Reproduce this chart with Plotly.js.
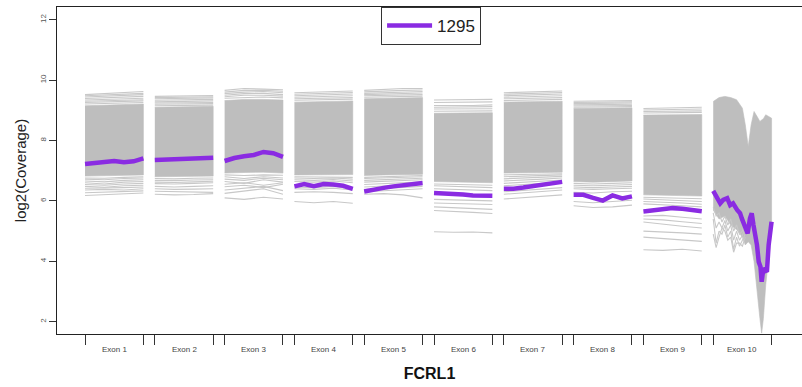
<!DOCTYPE html>
<html>
<head>
<meta charset="utf-8">
<script src="https://cdn.plot.ly/plotly-3.0.1.min.js"></script>
<style>html,body{margin:0;padding:0;background:#fff}#chart{width:802px;height:387px}</style>
</head>
<body>
<div id="chart"></div>
<script>
// ---------------- DATA ----------------
const geneName = 'FCRL1';
const sampleName = '1295';
const exonLabels = ['Exon 1','Exon 2','Exon 3','Exon 4','Exon 5','Exon 6','Exon 7','Exon 8','Exon 9','Exon 10'];
const yTicks = [2, 4, 6, 8, 10, 12];

// relative positions within an exon (0 = exon start, 1 = exon end)
const grid4 = [0, 1/3, 2/3, 1];
const grid7 = [0, 1/6, 2/6, 3/6, 4/6, 5/6, 1];
const grid10 = [0, .07, .12, .17, .24, .29, .34, .41, .46, .49, .54, .59, .63, .66, .69, .75, .78, .81, .83, .86, .92, .95, 1];
const grid10g = [0, .1, .2, .3, .4, .5, .55, .6, .65, .7, .75, .8, .83, .86, .9, .95, 1];
const grid10f = [0, .05, .1, .15, .2, .25, .3, .35, .4, .45, .5, .55];

// sample 1295 (purple) log2 coverage per exon
const sample1295 = [
  [7.22, 7.26, 7.30, 7.32, 7.28, 7.31, 7.41],
  [7.35, 7.36, 7.40, 7.38, 7.40, 7.42, 7.43],
  [7.32, 7.42, 7.48, 7.52, 7.62, 7.58, 7.46],
  [6.48, 6.56, 6.49, 6.56, 6.54, 6.50, 6.40],
  [6.31, 6.38, 6.43, 6.48, 6.52, 6.56, 6.59],
  [6.26, 6.25, 6.23, 6.21, 6.18, 6.16, 6.17],
  [6.40, 6.40, 6.44, 6.48, 6.53, 6.57, 6.63],
  [6.20, 6.20, 6.10, 6.01, 6.18, 6.08, 6.15],
  [5.65, 5.68, 5.72, 5.76, 5.74, 5.71, 5.66],
  [6.33, 6.09, 5.92, 6.03, 6.09, 5.86, 5.92, 5.70, 5.59, 5.42, 5.20, 4.92, 5.42, 5.59, 5.20, 4.54, 3.98, 3.82, 3.32, 3.77, 3.65, 4.54, 5.31]
];

// dense band of all other samples (upper and lower edge)
const coreTop = [
  [9.15, 9.17, 9.18, 9.21],
  [9.10, 9.11, 9.12, 9.13],
  [9.32, 9.36, 9.36, 9.34],
  [9.27, 9.28, 9.30, 9.31],
  [9.38, 9.40, 9.41, 9.42],
  [8.90, 8.91, 8.92, 8.92],
  [9.27, 9.28, 9.29, 9.30],
  [9.06, 9.07, 9.07, 9.08],
  [8.84, 8.85, 8.86, 8.86],
  [9.29, 9.42, 9.46, 9.42, 9.35, 9.07, 8.52, 7.80, 8.52, 8.96, 8.80, 8.63, 8.68, 8.72, 8.85, 8.80, 8.74]
];
const coreBottom = [
  [6.82, 6.82, 6.84, 6.86],
  [6.80, 6.80, 6.81, 6.82],
  [6.92, 6.94, 6.95, 6.92],
  [6.86, 6.86, 6.87, 6.87],
  [6.84, 6.86, 6.88, 6.88],
  [6.64, 6.62, 6.62, 6.60],
  [6.92, 6.93, 6.94, 6.95],
  [6.64, 6.62, 6.64, 6.66],
  [6.20, 6.20, 6.18, 6.16],
  [5.70, 5.40, 5.50, 5.20, 5.05, 4.80, 4.54, 4.65, 4.54, 3.99, 3.00, 2.11, 1.62, 2.11, 3.22, 4.10, 4.98]
];

// individual sample lines above the dense band
const upperLines = [
  [[9.52, 9.55, 9.58, 9.62], [9.48, 9.50, 9.53, 9.56], [9.44, 9.46, 9.49, 9.52], [9.39, 9.41, 9.43, 9.46], [9.34, 9.36, 9.38, 9.40], [9.30, 9.31, 9.33, 9.35], [9.26, 9.27, 9.29, 9.31], [9.21, 9.22, 9.24, 9.26]],
  [[9.46, 9.47, 9.48, 9.49], [9.42, 9.43, 9.44, 9.45], [9.38, 9.39, 9.40, 9.41], [9.33, 9.34, 9.35, 9.36], [9.28, 9.29, 9.30, 9.31], [9.24, 9.25, 9.26, 9.26], [9.20, 9.21, 9.22, 9.22], [9.15, 9.16, 9.17, 9.17]],
  [[9.66, 9.72, 9.70, 9.68], [9.60, 9.66, 9.66, 9.63], [9.55, 9.60, 9.62, 9.58], [9.50, 9.55, 9.56, 9.52], [9.45, 9.50, 9.50, 9.47], [9.40, 9.43, 9.44, 9.41]],
  [[9.58, 9.60, 9.62, 9.64], [9.53, 9.55, 9.57, 9.59], [9.48, 9.50, 9.52, 9.54], [9.43, 9.45, 9.46, 9.48], [9.38, 9.40, 9.41, 9.42], [9.33, 9.34, 9.36, 9.37]],
  [[9.66, 9.70, 9.72, 9.72], [9.61, 9.64, 9.66, 9.67], [9.56, 9.58, 9.60, 9.62], [9.52, 9.54, 9.55, 9.57], [9.48, 9.50, 9.51, 9.52], [9.43, 9.45, 9.46, 9.47]],
  [[9.34, 9.35, 9.36, 9.36], [9.26, 9.26, 9.27, 9.28], [9.16, 9.15, 9.16, 9.18], [9.10, 9.10, 9.11, 9.12], [9.04, 9.04, 9.06, 9.05], [8.97, 8.97, 8.98, 8.98]],
  [[9.58, 9.60, 9.62, 9.64], [9.53, 9.55, 9.57, 9.59], [9.48, 9.50, 9.52, 9.54], [9.43, 9.44, 9.46, 9.48], [9.38, 9.39, 9.40, 9.42], [9.32, 9.33, 9.34, 9.36]],
  [[9.30, 9.31, 9.32, 9.32], [9.26, 9.26, 9.27, 9.28], [9.22, 9.22, 9.23, 9.24], [9.18, 9.18, 9.19, 9.20], [9.14, 9.14, 9.15, 9.16], [9.10, 9.10, 9.11, 9.12]],
  [[9.06, 9.08, 9.09, 9.10], [9.01, 9.02, 9.03, 9.04], [8.96, 8.97, 8.98, 8.98], [8.91, 8.92, 8.92, 8.93]],
  []
];

// individual sample lines below the dense band
const lowerLines = [
  [[6.76, 6.75, 6.78, 6.80], [6.72, 6.70, 6.74, 6.76], [6.66, 6.63, 6.68, 6.70], [6.60, 6.56, 6.62, 6.64], [6.54, 6.52, 6.56, 6.58], [6.48, 6.45, 6.50, 6.52], [6.42, 6.42, 6.44, 6.46], [6.36, 6.38, 6.36, 6.40], [6.27, 6.29, 6.30, 6.33], [6.18, 6.20, 6.22, 6.26]],
  [[6.74, 6.73, 6.75, 6.76], [6.68, 6.67, 6.69, 6.70], [6.62, 6.61, 6.63, 6.65], [6.57, 6.56, 6.58, 6.60], [6.48, 6.46, 6.48, 6.50], [6.40, 6.38, 6.39, 6.40], [6.32, 6.30, 6.30, 6.28], [6.22, 6.20, 6.21, 6.24]],
  [[6.86, 6.84, 6.86, 6.85], [6.80, 6.74, 6.80, 6.76], [6.72, 6.68, 6.75, 6.70], [6.64, 6.58, 6.70, 6.62], [6.55, 6.60, 6.52, 6.60], [6.47, 6.52, 6.44, 6.55], [6.36, 6.42, 6.48, 6.34], [6.25, 6.32, 6.40, 6.22], [6.10, 6.05, 6.12, 6.06]],
  [[6.80, 6.79, 6.80, 6.78], [6.76, 6.74, 6.76, 6.72], [6.70, 6.68, 6.71, 6.66], [6.64, 6.62, 6.66, 6.60], [6.46, 6.44, 6.48, 6.42], [6.40, 6.38, 6.42, 6.36], [6.28, 6.30, 6.28, 6.24], [5.98, 5.94, 5.98, 5.92]],
  [[6.78, 6.80, 6.82, 6.84], [6.74, 6.76, 6.78, 6.80], [6.68, 6.70, 6.72, 6.75], [6.62, 6.64, 6.66, 6.70], [6.54, 6.57, 6.60, 6.63], [6.46, 6.50, 6.54, 6.56], [6.38, 6.42, 6.46, 6.48], [6.30, 6.34, 6.38, 6.40], [6.22, 6.24, 6.20, 6.10]],
  [[6.56, 6.54, 6.54, 6.52], [6.50, 6.48, 6.46, 6.44], [6.40, 6.38, 6.36, 6.34], [6.05, 6.04, 6.02, 6.00], [5.93, 5.92, 5.90, 5.88], [5.80, 5.78, 5.76, 5.72], [5.68, 5.66, 5.62, 5.58], [4.98, 4.96, 4.97, 4.94]],
  [[6.86, 6.87, 6.89, 6.90], [6.80, 6.82, 6.84, 6.86], [6.73, 6.75, 6.78, 6.81], [6.66, 6.68, 6.72, 6.76], [6.58, 6.61, 6.65, 6.69], [6.50, 6.54, 6.58, 6.62], [6.30, 6.34, 6.38, 6.44], [6.22, 6.26, 6.30, 6.36], [6.06, 6.10, 6.14, 6.20]],
  [[6.58, 6.56, 6.58, 6.60], [6.52, 6.50, 6.52, 6.54], [6.46, 6.44, 6.46, 6.48], [6.40, 6.38, 6.40, 6.42], [6.28, 6.26, 6.30, 6.32], [5.98, 5.94, 5.98, 6.02], [5.84, 5.78, 5.80, 5.86]],
  [[6.12, 6.11, 6.10, 6.07], [6.06, 6.04, 6.02, 5.98], [5.98, 5.96, 5.93, 5.89], [5.90, 5.88, 5.84, 5.80], [5.50, 5.52, 5.46, 5.40], [5.40, 5.37, 5.31, 5.25], [5.30, 5.22, 5.16, 5.10], [5.00, 4.98, 4.94, 4.90], [4.80, 4.76, 4.70, 4.66], [4.38, 4.36, 4.40, 4.34]],
  [[5.80, 5.50, 5.60, 5.30, 5.50, 5.20, 5.40, 5.00, 5.20, 4.90, 5.00, 5.30],
   [5.60, 5.10, 5.30, 5.10, 5.35, 5.00, 5.20, 4.70, 5.00, 4.70, 4.85, 5.10],
   [5.40, 4.60, 5.00, 4.90, 5.20, 4.80, 5.00, 4.40, 4.80, 4.50, 4.70, 4.90],
   [4.90, 4.45, 4.80, 5.10, 5.00, 4.70, 4.80, 4.30, 4.60, 4.60, 4.50, 4.80]]
];

// ---------------- BUILD ----------------
const HALF = 0.418; // half exon width in axis units (exon k centred at k)
const xOf = (k, f) => k - HALF + f * 2 * HALF;

const bandX = [], bandY = [];
const lineX = [], lineY = [];
const sampX = [], sampY = [];

exonLabels.forEach((lab, i) => {
  const k = i + 1;
  const gCore = (k === 10) ? grid10g : grid4;
  const gLow = (k === 10) ? grid10f : grid4;
  const gSamp = (k === 10) ? grid10 : grid7;
  gCore.forEach((f, j) => { bandX.push(xOf(k, f)); bandY.push(coreTop[i][j]); });
  for (let j = gCore.length - 1; j >= 0; j--) { bandX.push(xOf(k, gCore[j])); bandY.push(coreBottom[i][j]); }
  bandX.push(null); bandY.push(null);
  upperLines[i].forEach(ln => {
    grid4.forEach((f, j) => { lineX.push(xOf(k, f)); lineY.push(ln[j]); });
    lineX.push(null); lineY.push(null);
  });
  lowerLines[i].forEach(ln => {
    gLow.forEach((f, j) => { lineX.push(xOf(k, f)); lineY.push(ln[j]); });
    lineX.push(null); lineY.push(null);
  });
  gSamp.forEach((f, j) => { sampX.push(xOf(k, f)); sampY.push(sample1295[i][j]); });
  sampX.push(null); sampY.push(null);
});

const tickVals = [];
exonLabels.forEach((lab, i) => { tickVals.push(i + 1 - HALF, i + 1 + HALF); });

const GRAY = '#bebebe';
const traces = [
  { x: bandX, y: bandY, type: 'scatter', mode: 'lines', fill: 'toself', fillcolor: GRAY,
    line: { width: 0.6, color: GRAY }, showlegend: false, hoverinfo: 'skip' },
  { x: lineX, y: lineY, type: 'scatter', mode: 'lines', connectgaps: false,
    line: { width: 1.1, color: '#c8c8c8' }, showlegend: false, hoverinfo: 'skip' },
  { x: sampX, y: sampY, type: 'scatter', mode: 'lines', connectgaps: false, name: sampleName,
    line: { width: 4.5, color: '#8a2be2' } }
];

const annotations = exonLabels.map((lab, i) => ({
  x: i + 1, y: 0, xref: 'x', yref: 'paper', text: lab, showarrow: false,
  yanchor: 'middle', yshift: -15, font: { size: 8, color: '#444' }
}));

const layout = {
  width: 802, height: 387,
  margin: { l: 57, r: 0, t: 7, b: 53 },
  paper_bgcolor: '#ffffff', plot_bgcolor: '#ffffff',
  font: { family: '"Liberation Sans", Arial, sans-serif', color: '#222' },
  xaxis: {
    range: [0.1805, 10.854], showgrid: false, zeroline: false,
    showline: true, mirror: true, linecolor: '#222', linewidth: 1.2,
    ticks: 'outside', tickvals: tickVals, ticklen: 10, tickcolor: '#333', tickwidth: 1,
    showticklabels: false,
    title: { text: '<b>' + geneName + '</b>', font: { size: 16, color: '#111' }, standoff: 23 }
  },
  yaxis: {
    range: [1.592, 12.42], showgrid: false, zeroline: false,
    showline: true, linecolor: '#222', linewidth: 1.2,
    ticks: 'outside', ticklen: 7, tickcolor: '#333', tickwidth: 1,
    tickvals: yTicks, ticktext: yTicks.map(String), tickangle: -90,
    tickfont: { size: 8, color: '#555' },
    title: { text: 'log2(Coverage)', font: { size: 15, color: '#222' }, standoff: 8 }
  },
  showlegend: true,
  legend: {
    x: 0.435, y: 1.0, xanchor: 'left', yanchor: 'top',
    bgcolor: '#ffffff', bordercolor: '#333', borderwidth: 1,
    font: { size: 17, color: '#222' }, itemwidth: 45,
    entrywidth: 100, entrywidthmode: 'pixels'
  },
  annotations: annotations
};

Plotly.newPlot('chart', traces, layout, { staticPlot: true, displayModeBar: false });
</script>
</body>
</html>
